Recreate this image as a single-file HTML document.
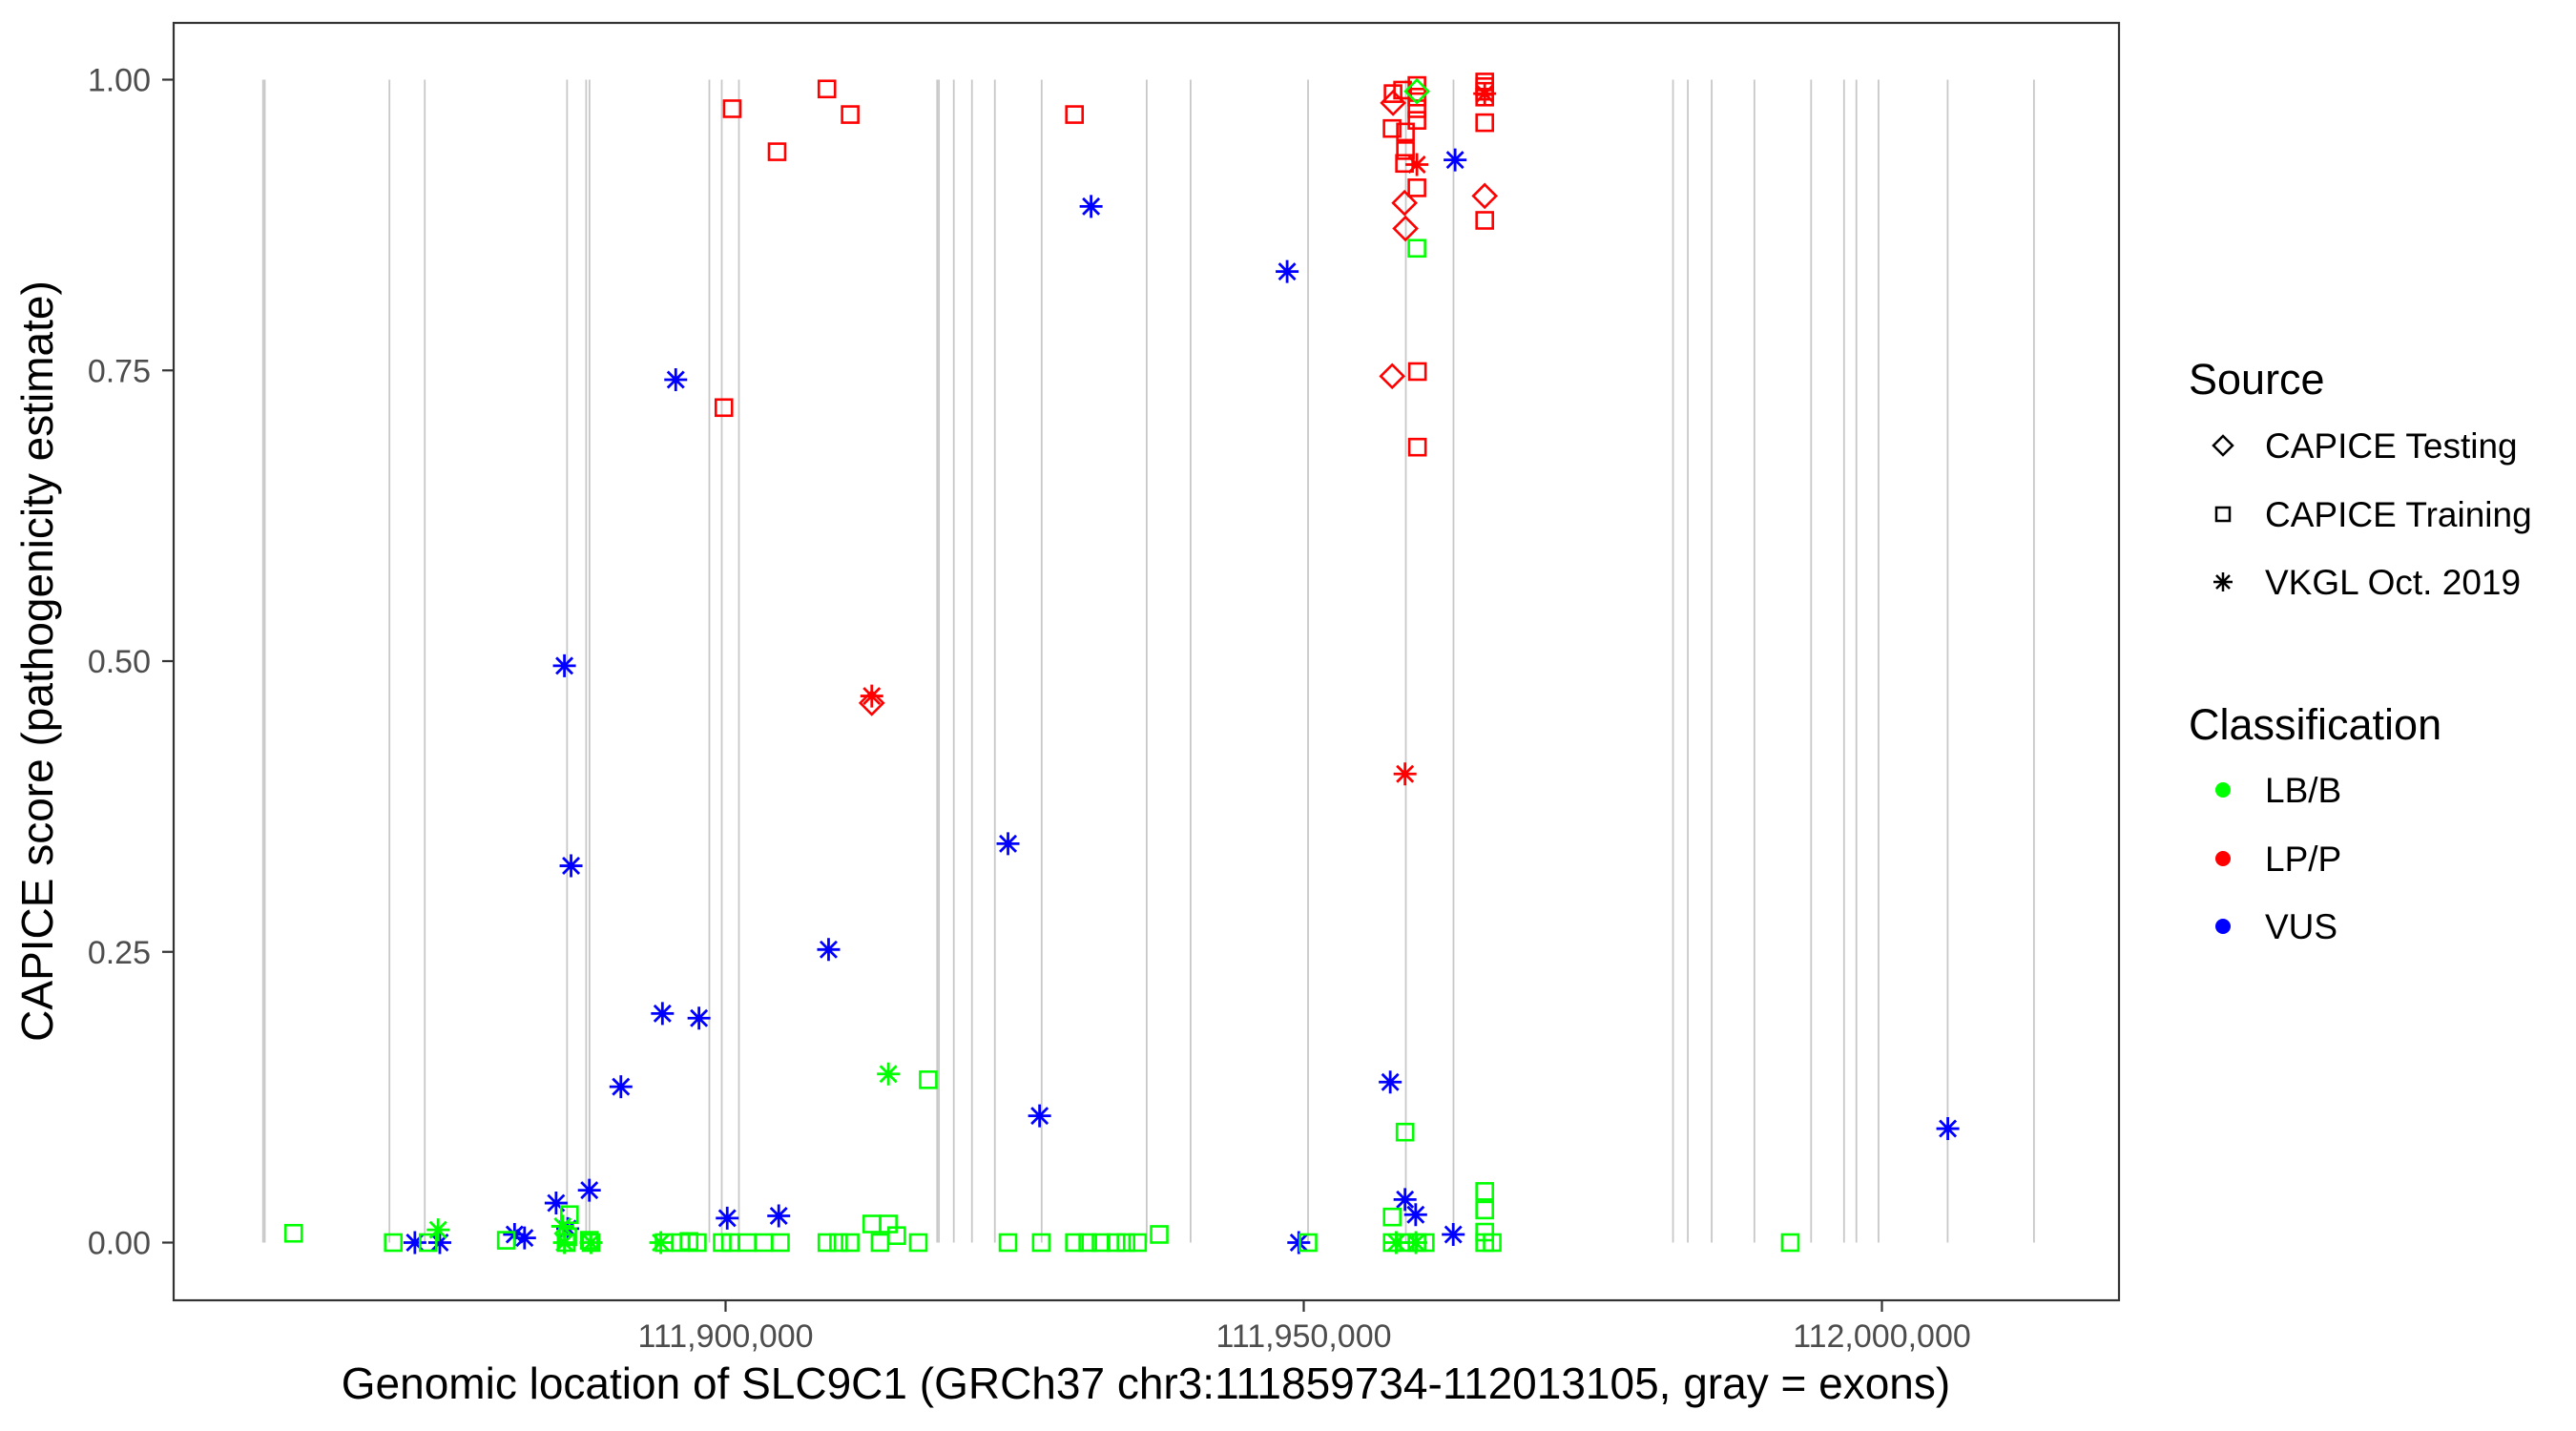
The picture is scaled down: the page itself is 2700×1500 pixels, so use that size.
<!DOCTYPE html>
<html><head><meta charset="utf-8">
<style>
html,body{margin:0;padding:0;background:#fff;}
svg{display:block;font-family:"Liberation Sans",Arial,sans-serif;}
</style></head>
<body>
<svg id="chart" width="2700" height="1500" viewBox="0 0 2700 1500" xmlns="http://www.w3.org/2000/svg">
<rect x="0" y="0" width="2700" height="1500" fill="#fff"/>
<g id="exons"></g>
<g id="points"></g>
<rect x="182" y="24" width="2039" height="1339" fill="none" stroke="#333" stroke-width="2.2"/>
<g id="yaxis"></g>
<g id="xaxis"></g>
<text x="1201" y="1466" font-size="46" text-anchor="middle" fill="#000">Genomic location of SLC9C1 (GRCh37 chr3:111859734-112013105, gray = exons)</text>
<text transform="translate(55,693) rotate(-90)" font-size="46" text-anchor="middle" fill="#000">CAPICE score (pathogenicity estimate)</text>
<g>
<text x="2294" y="413" font-size="45">Source</text>
<path d="M2330 457 L2340 467 L2330 477 L2320 467 Z" fill="none" stroke="#000" stroke-width="2.5"/>
<text x="2374" y="480" font-size="37">CAPICE Testing</text>
<rect x="2323" y="532" width="14" height="14" fill="none" stroke="#000" stroke-width="2.5"/>
<text x="2374" y="552" font-size="37">CAPICE Training</text>
<path d="M2320 610 H2340 M2330 600 V620 M2323 603 L2337 617 M2337 603 L2323 617" stroke="#000" stroke-width="2.5"/>
<text x="2374" y="623" font-size="37">VKGL Oct. 2019</text>
</g>
<g>
<text x="2294" y="775" font-size="45">Classification</text>
<circle cx="2330" cy="828" r="8" fill="#00ff00"/>
<text x="2374" y="841" font-size="37">LB/B</text>
<circle cx="2330" cy="900" r="8" fill="#ff0000"/>
<text x="2374" y="913" font-size="37">LP/P</text>
<circle cx="2330" cy="971" r="8" fill="#0000ff"/>
<text x="2374" y="984" font-size="37">VUS</text>
</g>
</svg>
<script>
const exonPos = [111860000,111860150,111870932,111873987,111886292,111887943,111888232,111898596,111899670,111901156,111918300,111918450,111919737,111921306,111923288,111927334,111936418,111940216,111950374,111958830,111962951,111981936,111983216,111985280,111988972,111993877,111996726,111997791,111999707,112005686,112013151];
const yTicks = [0, 0.25, 0.5, 0.75, 1.0];
const yTickLabels = ["0.00","0.25","0.50","0.75","1.00"];
const xTicks = [111900000, 111950000, 112000000];
const xTickLabels = ["111,900,000","111,950,000","112,000,000"];
const ptPos = [
111900575,111904454,111908764,111910776,111899856,111930173,111912644,111912644,111957650,111959830,111959830,111958760,
111957724,111958550,111957724,111959787,111959787,111959787,111959787,111957641,111958797,111958797,111958715,111959787,111959787,111958715,111958797,
111965651,111965651,111965651,111965651,111965651,111965651,111965651,111965651,
111959787,111959787,
111873132,111875287,111881753,111882615,111885345,111886063,111886350,111886638,111888218,111890948,111894540,111895690,111897701,111900144,111904598,111908908,111924426,111927156,111931610,111948564,111949570,111957480,111958760,111959680,111962930,111963091,112005700,
111875143,111885919,111886063,111888362,111894396,111914081,111958000,111959700,
111862643,111871264,111874281,111881034,111886207,111886494,111886350,111888218,111888362,111894684,111896121,111896839,111897557,111899713,111900431,111901868,111903305,111904741,111908764,111909770,111910776,111912644,111913362,111914081,111914799,111916667,111917529,111924426,111927299,111930173,111931322,111932472,111933765,111934627,111935633,111937500,111950374,111957650,111957650,111958760,111958760,111959790,111960500,111965651,111965651,111965651,111965651,111966300,111992077
];
const ptScore = [
0.975,0.938,0.992,0.970,0.718,0.970,0.464,0.470,0.745,0.749,0.684,0.403,
0.988,0.991,0.980,0.995,0.985,0.975,0.965,0.958,0.955,0.939,0.928,0.927,0.907,0.894,0.872,
0.998,0.994,0.990,0.985,0.988,0.963,0.900,0.879,
0.990,0.855,
0.0,0.0,0.007,0.004,0.034,0.496,0.012,0.324,0.045,0.134,0.197,0.742,0.193,0.021,0.023,0.252,0.343,0.109,0.891,0.835,0.0,0.138,0.037,0.024,0.007,0.931,0.098,
0.011,0.014,0.0,0.0,0.0,0.145,0.0,0.0,
0.008,0,0,0.002,0,0.024,0.005,0.002,0,0,0,0.001,0,0,0,0,0,0,0,0,0,0.016,0,0.016,0.006,0,0.140,0,0,0,0,0,0,0,0,0.007,0,0.022,0,0.095,0,0,0,0.044,0.028,0.009,0,0,0
];
const ptSource = "RRRRRRTVTRRV"+"RRTRRRRRRRRVRTT"+"RRRRVRTR"+"TR"+"VVVVVVVVVVVVVVVVVVVVVVVVVVV"+"VVVVVVVV"+"R".repeat(49);
const ptClass = "PPPPPPPPPPPP"+"PPPPPPPPPPPPPPP"+"PPPPPPPP"+"BB"+"UUUUUUUUUUUUUUUUUUUUUUUUUUU"+"BBBBBBBB"+"B".repeat(49);

const NS = "http://www.w3.org/2000/svg";
const X0 = 760.5, XREF = 111900000, XS = 0.01212;
const Y0 = 1302.5, YS = 1219;
function xs(g){ return X0 + (g - XREF) * XS; }
function ys(s){ return Y0 - s * YS; }
function mk(tag, attrs, parent){
  const e = document.createElementNS(NS, tag);
  for (const k in attrs) e.setAttribute(k, attrs[k]);
  parent.appendChild(e);
  return e;
}
const colors = {B:"#00ff00", P:"#ff0000", U:"#0000ff"};

const gEx = document.getElementById("exons");
exonPos.forEach(p => {
  const l = mk("line", {x1:xs(p), x2:xs(p), y1:ys(1), y2:ys(0), stroke:"#c8c8c8", "stroke-width":1.8}, gEx);
  
  
});

const gY = document.getElementById("yaxis");
yTicks.forEach((v, i) => {
  const t = mk("line", {x1:170, x2:182, y1:ys(v), y2:ys(v), stroke:"#333", "stroke-width":2.2}, gY);
  
  
  const tx = mk("text", {x:158, y:ys(v)+12, "font-size":34, "text-anchor":"end", fill:"#4d4d4d"}, gY);
  tx.textContent = yTickLabels[i];
  
  
});
const gX = document.getElementById("xaxis");
xTicks.forEach((v, i) => {
  const t = mk("line", {x1:xs(v), x2:xs(v), y1:1363, y2:1375, stroke:"#333", "stroke-width":2.2}, gX);
  
  
  const tx = mk("text", {x:xs(v), y:1412, "font-size":34, "text-anchor":"middle", fill:"#4d4d4d"}, gX);
  tx.textContent = xTickLabels[i];
  
  
});

const gP = document.getElementById("points");
for (let i = 0; i < ptPos.length; i++) {
  const cx = xs(ptPos[i]), cy = ys(ptScore[i]);
  const c = colors[ptClass[i]] || "#0000ff";
  const s = ptSource[i];
  let el;
  if (s === "T") {
    el = mk("path", {d:`M${cx} ${cy-12} L${cx+12} ${cy} L${cx} ${cy+12} L${cx-12} ${cy} Z`, fill:"none", stroke:c, "stroke-width":2.6}, gP);
  } else if (s === "R") {
    el = mk("rect", {x:cx-8.5, y:cy-8.5, width:17, height:17, fill:"none", stroke:c, "stroke-width":2.6}, gP);
  } else {
    el = mk("path", {d:`M${cx-12} ${cy} H${cx+12} M${cx} ${cy-12} V${cy+12} M${cx-8.5} ${cy-8.5} L${cx+8.5} ${cy+8.5} M${cx+8.5} ${cy-8.5} L${cx-8.5} ${cy+8.5}`, stroke:c, "stroke-width":2.8, fill:"none"}, gP);
  }
  
  
}
</script>
</body></html>
